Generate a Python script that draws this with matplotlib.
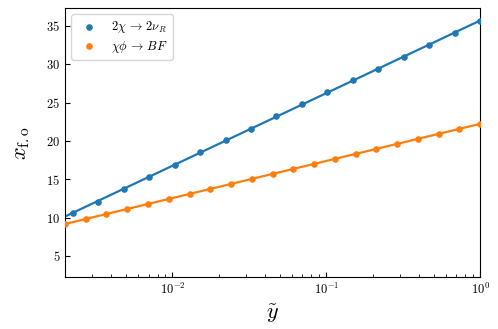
import numpy as np
import matplotlib
matplotlib.use("Agg")
import matplotlib.pyplot as plt

plt.rcParams['mathtext.fontset'] = 'cm'
plt.rcParams['font.family'] = 'serif'
plt.rcParams['font.serif'] = ['cmr10', 'DejaVu Serif']
plt.rcParams['axes.formatter.use_mathtext'] = True

# data
x_blue = np.logspace(np.log10(0.00225), 0, 17)
y_blue = [10.56, 12.08, 13.70, 15.34, 16.90, 18.54, 20.09, 21.60, 23.20,
          24.80, 26.35, 27.90, 29.40, 30.95, 32.56, 34.08, 35.60]
x_orange = np.logspace(np.log10(0.002), 0, 21)
y_orange = [9.12, 9.78, 10.47, 11.09, 11.78, 12.43, 13.08, 13.71, 14.43,
            15.04, 15.73, 16.34, 17.03, 17.69, 18.34, 18.95, 19.60, 20.26,
            20.90, 21.52, 22.17]
label_blue = r'$2\chi \,\rightarrow\, 2\nu_R$'
label_orange = r'$\chi\phi \,\rightarrow\, BF$'

fig = plt.figure(figsize=(4.98, 3.29), dpi=100)
ax = fig.add_axes([0.1305, 0.157, 0.8335, 0.818])

xl = np.logspace(np.log10(0.002), 0, 200)
for xs, ys, c, lab in [(x_blue, y_blue, 'C0', label_blue),
                       (x_orange, y_orange, 'C1', label_orange)]:
    p = np.polyfit(np.log10(xs), ys, 1)
    ax.plot(xl, np.polyval(p, np.log10(xl)), color=c, lw=1.6)
    ax.scatter(xs, ys, color=c, s=14, label=lab, zorder=3)

ax.set_xscale('log')
ax.set_xlim(0.002, 1)
ax.set_ylim(2.2, 37.3)
ax.set_yticks([5, 10, 15, 20, 25, 30, 35])
ax.tick_params(direction='in', which='both', labelsize=9)
ax.set_xlabel(r'$\tilde{y}$', fontsize=16)
ax.set_ylabel(r'$x_{\rm f.o}$', fontsize=16, labelpad=10)
ax.legend(loc='upper left', fontsize=9, labelspacing=0.25, borderpad=0.4,
          handletextpad=0.8)
fig.savefig('out.png', dpi=100)
